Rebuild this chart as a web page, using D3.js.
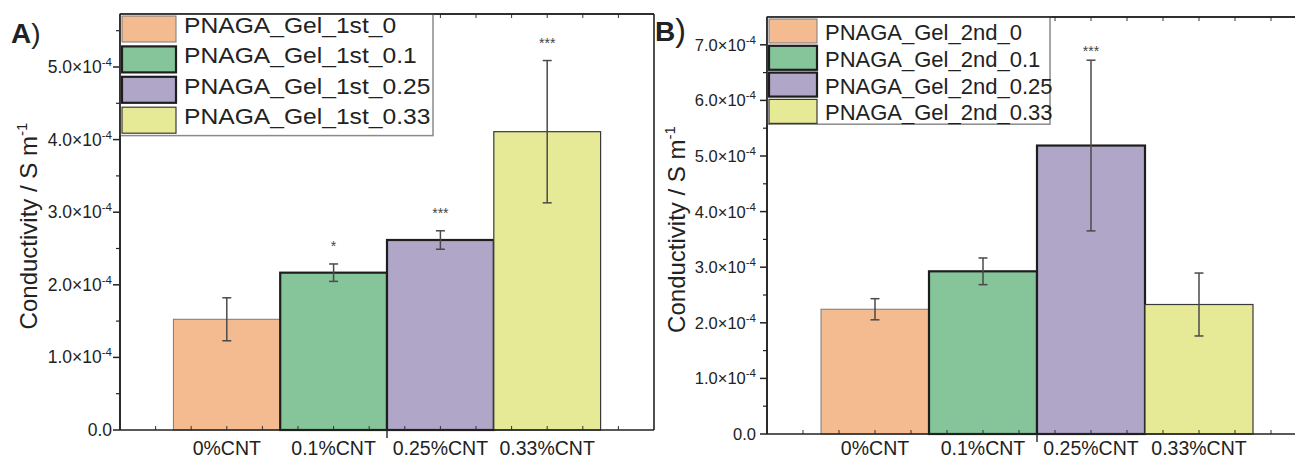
<!DOCTYPE html>
<html>
<head>
<meta charset="utf-8">
<script src="https://cdn.jsdelivr.net/npm/d3@7"></script>
<style>
  html, body { margin: 0; padding: 0; background: #fff; }
  svg { display: block; font-family: "Liberation Sans", Arial, sans-serif; }
</style>
</head>
<body>
<svg id="chart" width="1295" height="459"></svg>
<script>
// ---------------- data ----------------
const categories = ["0%CNT", "0.1%CNT", "0.25%CNT", "0.33%CNT"];

const seriesA = ["PNAGA_Gel_1st_0", "PNAGA_Gel_1st_0.1", "PNAGA_Gel_1st_0.25", "PNAGA_Gel_1st_0.33"];
const valuesA = [1.525e-4, 2.167e-4, 2.617e-4, 4.109e-4];
const errorsA = [0.296e-4, 0.120e-4, 0.127e-4, 0.980e-4];
const sigA = ["", "*", "***", "***"];
const yTicksA = [0, 1e-4, 2e-4, 3e-4, 4e-4, 5e-4];
const yMaxA = 5.73e-4;

const seriesB = ["PNAGA_Gel_2nd_0", "PNAGA_Gel_2nd_0.1", "PNAGA_Gel_2nd_0.25", "PNAGA_Gel_2nd_0.33"];
const valuesB = [2.244e-4, 2.926e-4, 5.188e-4, 2.329e-4];
const errorsB = [0.190e-4, 0.240e-4, 1.535e-4, 0.566e-4];
const sigB = ["", "", "***", ""];
const yTicksB = [0, 1e-4, 2e-4, 3e-4, 4e-4, 5e-4, 6e-4, 7e-4];
const yMaxB = 7.5e-4;

const fills = ["#F4BB91", "#86C49A", "#B0A6C8", "#E6E996"];
const strokes = ["#7a7a7a", "#1e1e1e", "#1e1e1e", "#3a3a3a"];
const strokeW = [1, 2.2, 2.2, 1.2];

// ---------------- layout ----------------
const svg = d3.select("#chart");
const FONT = '"Liberation Sans", Arial, sans-serif';

const panels = [
  { label: "A", parenSize: 28, labelX: 11, labelY: 43,
    left: 120, right: 654, top: 14, bottom: 430, frameRight: true,
    series: seriesA, values: valuesA, errors: errorsA, sig: sigA, yTicks: yTicksA, yMax: yMaxA,
    starOff: 21, yLabelX: 37, tickLabelEnd: 112, tickFont: 17.5, catOff: 25,
    legend: { w: 313, pitch: 30.4, swW: 54, swH: 26, baseOff: 17, stretch: 1.12 } },
  { label: "B", parenSize: 32, labelX: 655, labelY: 41,
    left: 767, right: 1307, top: 17, bottom: 434, frameRight: false,
    series: seriesB, values: valuesB, errors: errorsB, sig: sigB, yTicks: yTicksB, yMax: yMaxB,
    starOff: 12, yLabelX: 685, tickLabelEnd: 756, tickFont: 16.5, catOff: 20.5,
    legend: { w: 283, pitch: 26.8, swW: 48, swH: 24, baseOff: 21, stretch: 1.0 } }
];

function expLabel(sel, v) {
  if (v === 0) { sel.text("0.0"); return; }
  const e = Math.floor(Math.log10(v) + 1e-9);
  const m = v / Math.pow(10, e);
  sel.append("tspan").text(m.toFixed(1) + "\u00D710");
  sel.append("tspan").attr("dy", -7).attr("font-size", 11.5).text(String(e));
}

panels.forEach(p => {
  const g = svg.append("g");
  const x = d3.scaleBand().domain(categories).range([p.left, p.right]).paddingInner(0).paddingOuter(0.5);
  const y = d3.scaleLinear().domain([0, p.yMax]).range([p.bottom, p.top]);
  const frame = d3.scaleLinear().domain([0, 15]).range([p.left, p.right]);
  const data = categories.map((c, i) => ({ c, i, v: p.values[i], e: p.errors[i], s: p.sig[i] }));

  // bars
  g.selectAll("rect.bar").data(data).join("rect")
    .attr("x", d => x(d.c)).attr("width", x.bandwidth())
    .attr("y", d => y(d.v)).attr("height", d => y(0) - y(d.v))
    .attr("fill", d => fills[d.i]).attr("stroke", d => strokes[d.i]).attr("stroke-width", d => strokeW[d.i]);

  // error bars
  const eg = g.selectAll("g.err").data(data).join("g").attr("stroke", "#4a4a4a").attr("stroke-width", 1.5);
  const cx = d => x(d.c) + x.bandwidth() / 2;
  eg.append("line").attr("x1", cx).attr("x2", cx).attr("y1", d => y(d.v + d.e)).attr("y2", d => y(d.v - d.e));
  eg.append("line").attr("x1", d => cx(d) - 4.5).attr("x2", d => cx(d) + 4.5).attr("y1", d => y(d.v + d.e)).attr("y2", d => y(d.v + d.e));
  eg.append("line").attr("x1", d => cx(d) - 4.5).attr("x2", d => cx(d) + 4.5).attr("y1", d => y(d.v - d.e)).attr("y2", d => y(d.v - d.e));

  // significance stars
  g.selectAll("text.sig").data(data.filter(d => d.s)).join("text")
    .attr("x", cx).attr("y", d => y(d.v + d.e) - p.starOff + 8)
    .attr("text-anchor", "middle").attr("font-size", 14).attr("fill", "#444")
    .attr("font-family", FONT).text(d => d.s);

  // minor ticks on bottom (inward) and top (inward)
  const minor = d3.range(1, 15);
  g.selectAll("line.mb").data(minor).join("line")
    .attr("x1", d => frame(d)).attr("x2", d => frame(d)).attr("y1", p.bottom).attr("y2", p.bottom - 4)
    .attr("stroke", "#333").attr("stroke-width", 1);
  g.selectAll("line.mt").data(minor).join("line")
    .attr("x1", d => frame(d)).attr("x2", d => frame(d)).attr("y1", p.top).attr("y2", p.top + 4)
    .attr("stroke", "#333").attr("stroke-width", 1);
  // major tick at centre (outward)
  const mid = frame(7.5);
  g.append("line").attr("x1", mid).attr("x2", mid).attr("y1", p.bottom).attr("y2", p.bottom + 8)
    .attr("stroke", "#333").attr("stroke-width", 1.5);

  // frame lines
  g.append("line").attr("x1", p.left).attr("x2", p.right).attr("y1", p.bottom).attr("y2", p.bottom).attr("stroke", "#222").attr("stroke-width", 1.6);
  g.append("line").attr("x1", p.left).attr("x2", p.right).attr("y1", p.top).attr("y2", p.top).attr("stroke", "#222").attr("stroke-width", 1.6);
  g.append("line").attr("x1", p.left).attr("x2", p.left).attr("y1", p.top).attr("y2", p.bottom).attr("stroke", "#222").attr("stroke-width", 1.6);
  if (p.frameRight) {
    g.append("line").attr("x1", p.right).attr("x2", p.right).attr("y1", p.top).attr("y2", p.bottom).attr("stroke", "#222").attr("stroke-width", 1.6);
  }

  // y axis ticks
  const step = p.yTicks[1] - p.yTicks[0];
  const minorY = p.yTicks.map(t => t + step / 2).filter(t => t < p.yMax);
  g.selectAll("line.ym").data(p.yTicks).join("line")
    .attr("x1", p.left - 7).attr("x2", p.left).attr("y1", d => y(d)).attr("y2", d => y(d))
    .attr("stroke", "#222").attr("stroke-width", 1.5);
  g.selectAll("line.yn").data(minorY).join("line")
    .attr("x1", p.left - 4).attr("x2", p.left).attr("y1", d => y(d)).attr("y2", d => y(d))
    .attr("stroke", "#222").attr("stroke-width", 1.2);
  g.selectAll("text.yl").data(p.yTicks).join("text")
    .attr("x", p.tickLabelEnd).attr("y", d => y(d) + 6)
    .attr("text-anchor", "end").attr("font-size", p.tickFont).attr("fill", "#222").attr("font-family", FONT)
    .each(function(d) { expLabel(d3.select(this), d); });

  // category labels
  g.selectAll("text.cat").data(categories).join("text")
    .attr("x", d => x(d) + x.bandwidth() / 2).attr("y", p.bottom + p.catOff)
    .attr("text-anchor", "middle").attr("font-size", 19.5).attr("fill", "#222").attr("font-family", FONT)
    .text(d => d);

  // y axis title
  const yt = g.append("text")
    .attr("transform", `translate(${p.yLabelX},${(p.top + p.bottom) / 2 + 4}) rotate(-90)`)
    .attr("text-anchor", "middle").attr("font-size", 24).attr("fill", "#222").attr("font-family", FONT);
  yt.append("tspan").text("Conductivity / S m");
  yt.append("tspan").attr("dy", -10).attr("font-size", 15).text("-1");

  // legend
  const L = p.legend;
  const lg = g.append("g");
  lg.append("rect").attr("x", p.left).attr("y", p.top).attr("width", L.w).attr("height", L.pitch * 4)
    .attr("fill", "#fff").attr("stroke", "#8a8a8a").attr("stroke-width", 1.5);
  const rows = lg.selectAll("g.row").data(p.series).join("g")
    .attr("transform", (d, i) => `translate(${p.left + 2},${p.top + 2 + i * L.pitch})`);
  rows.append("rect").attr("width", L.swW).attr("height", L.swH)
    .attr("fill", (d, i) => fills[i]).attr("stroke", (d, i) => strokes[i]).attr("stroke-width", (d, i) => strokeW[i]);
  rows.append("text")
    .attr("transform", `translate(${L.swW + 8},${L.baseOff}) scale(${L.stretch},1)`)
    .attr("font-size", 22).attr("fill", "#222").attr("font-family", FONT).text(d => d);
  // redraw left axis over legend
  g.append("line").attr("x1", p.left).attr("x2", p.left).attr("y1", p.top).attr("y2", p.bottom).attr("stroke", "#222").attr("stroke-width", 1.6);
  g.append("line").attr("x1", p.left).attr("x2", p.right).attr("y1", p.top).attr("y2", p.top).attr("stroke", "#222").attr("stroke-width", 1.6);

  // panel label
  const pl = g.append("text").attr("x", p.labelX).attr("y", p.labelY).attr("fill", "#222").attr("font-family", FONT);
  pl.append("tspan").attr("font-size", 28).attr("font-weight", "bold").text(p.label);
  pl.append("tspan").attr("font-size", p.parenSize).text(")");
});
</script>
</body>
</html>
